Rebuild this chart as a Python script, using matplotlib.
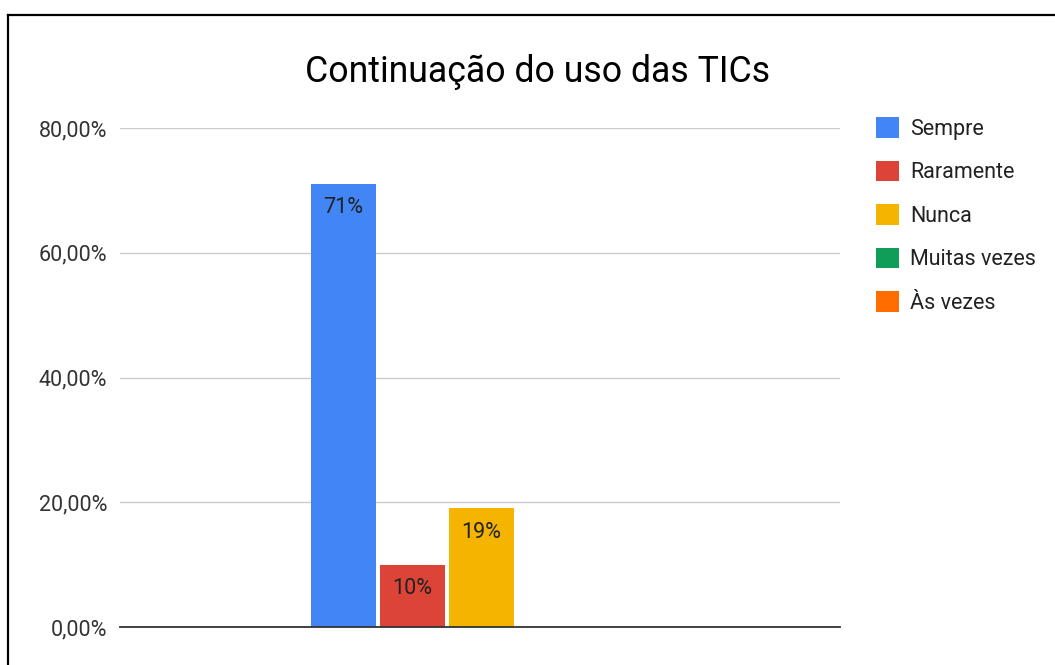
import matplotlib
matplotlib.use("Agg")
import matplotlib.pyplot as plt
from matplotlib.lines import Line2D
import numpy as np

plt.rcParams['font.family'] = ['Roboto', 'DejaVu Sans']

# dados
categorias = ["Sempre", "Raramente", "Nunca", "Muitas vezes", "Às vezes"]
valores = [71, 10, 19, 0, 0]
cores = ["#4285F4", "#DB4437", "#F4B400", "#0F9D58", "#FF6D01"]
yticks = [0, 20, 40, 60, 80]

fig = plt.figure(figsize=(10.55, 6.65), dpi=100)
ax = fig.add_axes([120/1055, 1 - 627/665, 720/1055, (627 - 128)/665])

largura = 65/69
pos = np.arange(len(valores)) - 2
barras = []
for i in range(len(valores)):
    b = ax.bar(pos[i], valores[i], width=largura, color=cores[i], label=categorias[i], zorder=3)
    barras.append(b)
    if valores[i] > 0:
        ax.annotate(f"{valores[i]}%", (pos[i], valores[i]), xytext=(0, -17),
                    textcoords="offset points", ha="center", va="center",
                    fontsize=15.5, color="#222222", zorder=4)

desl = 1/69
ax.set_xlim(-720/69/2 - desl, 720/69/2 - desl)
ax.set_ylim(0, 80)
ax.set_yticks(yticks)
ax.set_yticklabels([f"{v},00%" for v in yticks], fontsize=15.5, color="#333333")
ax.set_xticks([])
ax.tick_params(axis="y", length=0, pad=9.4)
ax.grid(axis="y", color="#cccccc", linewidth=1, zorder=0)
for s in ["top", "right", "left"]:
    ax.spines[s].set_visible(False)
ax.spines["bottom"].set_color("#333333")
ax.spines["bottom"].set_linewidth(1.3)
ax.spines["bottom"].set_zorder(5)

fig.text(538/1055, 1 - 72/665, "Continuação do uso das TICs", ha="center", va="center",
         fontsize=25.7, color="#000000")

leg = fig.legend(handles=[b[0] for b in barras], labels=categorias, loc="upper left",
                 bbox_to_anchor=(876/1055, 1 - 117/665), frameon=False, fontsize=15.5,
                 handlelength=1.05, handleheight=1.1, handletextpad=0.55,
                 labelspacing=0.97, borderaxespad=0, borderpad=0)
for t in leg.get_texts():
    t.set_color("#222222")

# moldura
fig.add_artist(Line2D([8/1055, 1], [1 - 15/665, 1 - 15/665], color="black", linewidth=1.6))
fig.add_artist(Line2D([8/1055, 8/1055], [0, 1 - 15/665], color="black", linewidth=1.6))

fig.savefig("out.png", dpi=100)
